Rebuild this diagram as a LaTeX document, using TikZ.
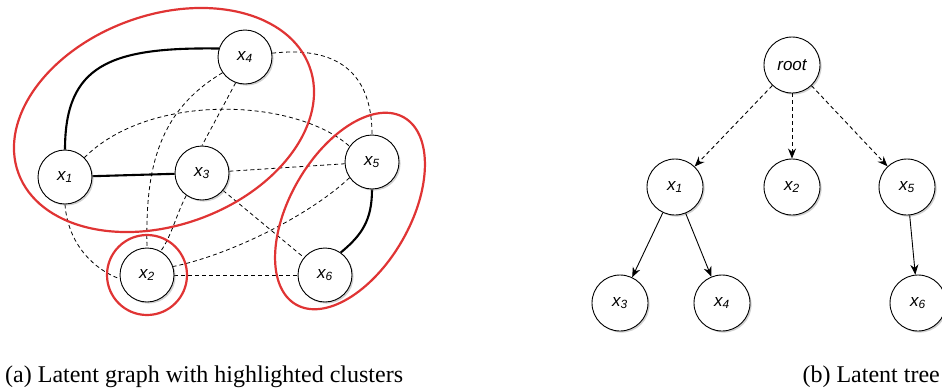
\documentclass[tikz,border=0pt]{standalone}
\usepackage{fontspec}
\setmainfont{Liberation Serif}
\newfontfamily\labfont{Liberation Sans}
\usetikzlibrary{arrows.meta,shadows,backgrounds}
\definecolor{clred}{RGB}{224,52,52}
\begin{document}
\begin{tikzpicture}[x=1pt,y=-1pt,
  vnode/.style={circle,draw=black,line width=0.9pt,fill=white,minimum size=54pt,inner sep=0pt,
    font=\labfont\itshape\fontsize{17}{19}\selectfont,
    drop shadow={shadow xshift=1.6pt,shadow yshift=-1.6pt,fill=black!40,opacity=0.45}},
  strong/.style={line width=2.1pt,black},
  weak/.style={line width=0.8pt,black,dash pattern=on 4pt off 3pt},
  cluster/.style={line width=2.2pt,clred},
  tarrow/.style={-{Stealth[length=10pt,width=8pt]},line width=0.9pt,black},
  caption/.style={font=\fontsize{24}{28}\selectfont,inner sep=0pt}]
\useasboundingbox (0,0) rectangle (942,389);
% ---------- left panel: latent graph ----------
\node[vnode] (a4) at (245,57) {x\textsubscript{4}};
\node[vnode] (a1) at (65,177) {x\textsubscript{1}};
\node[vnode] (a3) at (202,173) {x\textsubscript{3}};
\node[vnode] (a5) at (372,162) {x\textsubscript{5}};
\node[vnode] (a2) at (147,275) {x\textsubscript{2}};
\node[vnode] (a6) at (325,275) {x\textsubscript{6}};
\begin{scope}[on background layer]
\draw[strong] (a1.north) .. controls (65,65) and (110,47) .. (a4.162);
\draw[strong] (a1) -- (a3);
\draw[strong] (a5.south) .. controls (372,220) and (362,235) .. (a6.55);
\draw[weak] (a4.8) .. controls (345,45) and (372,80) .. (a5.north);
\draw[weak] (a4.250) -- (a3.north);
\draw[weak] (a4.215) .. controls (160,110) and (145,165) .. (a2.north);
\draw[weak] (a1.45) .. controls (150,92) and (295,98) .. (a5.145);
\draw[weak] (a3) -- (a5);
\draw[weak] (a3.235) .. controls (176,215) and (172,235) .. (a2.60);
\draw[weak] (a3) -- (a6);
\draw[weak] (a5.215) .. controls (310,215) and (230,255) .. (a2.18);
\draw[weak] (a1.south) .. controls (68,245) and (95,270) .. (a2.188);
\draw[weak] (a2) -- (a6);
\end{scope}
% clusters
\draw[cluster,rotate around={20:(164,120)}] (164,120) ellipse [x radius=155, y radius=105];
\draw[cluster] (a2) circle [radius=40];
\draw[cluster,rotate around={60:(350,211)}] (350,211) ellipse [x radius=108, y radius=60];
% ---------- right panel: latent tree ----------
\node[vnode,minimum size=56pt] (root) at (792,65) {root};
\node[vnode,minimum size=56pt] (b1) at (675,187) {x\textsubscript{1}};
\node[vnode,minimum size=56pt] (b2) at (792,187) {x\textsubscript{2}};
\node[vnode,minimum size=56pt] (b5) at (907,187) {x\textsubscript{5}};
\node[vnode,minimum size=56pt] (b3) at (620,303) {x\textsubscript{3}};
\node[vnode,minimum size=56pt] (b4) at (722,303) {x\textsubscript{4}};
\node[vnode,minimum size=56pt] (b6) at (918,303) {x\textsubscript{6}};
\draw[tarrow,dash pattern=on 4pt off 3pt] (root) -- (b1);
\draw[tarrow,dash pattern=on 4pt off 3pt] (root) -- (b2);
\draw[tarrow,dash pattern=on 4pt off 3pt] (root) -- (b5);
\draw[tarrow] (b1) -- (b3);
\draw[tarrow] (b1) -- (b4);
\draw[tarrow] (b5) -- (b6);
% ---------- captions ----------
\node[caption,anchor=base west] (capa) at (5,382) {(a) Latent graph with highlighted clusters};
\node[caption,anchor=base east] (capb) at (940,382) {(b) Latent tree};
\end{tikzpicture}
\end{document}
